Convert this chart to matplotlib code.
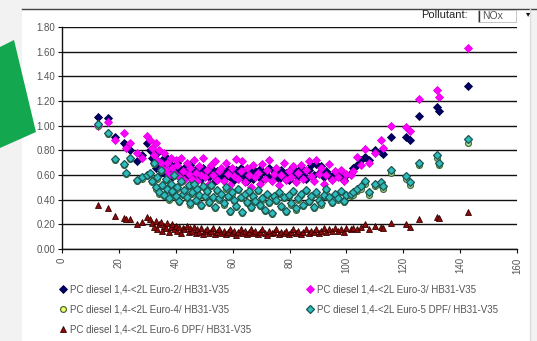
import matplotlib.pyplot as plt
from matplotlib.lines import Line2D
from matplotlib.patches import Polygon, Rectangle

plt.rcParams['font.family'] = ['Liberation Sans', 'DejaVu Sans']

# average speed of each traffic situation [km/h]
speed = [
    12.7, 16.0, 18.7, 21.9, 22.5, 24.0, 26.5, 28.0, 29.8,
    31.0, 31.5, 32.3, 33.0, 33.4, 34.1, 34.8, 35.2,
    35.9, 36.5, 37.0, 37.6, 38.2, 38.8, 39.5, 40.1,
    40.6, 41.3, 41.9, 42.4, 43.0, 43.8, 44.5, 45.0,
    45.7, 46.3, 47.0, 47.6, 48.3, 49.0, 49.6, 50.4,
    51.0, 51.7, 52.5, 53.2, 53.8, 54.6, 55.3, 56.0,
    56.8, 57.5, 58.2, 59.0, 59.8, 60.5, 61.3, 62.0,
    62.8, 63.4, 64.2, 65.0, 65.8, 66.5, 67.3, 68.0,
    68.8, 69.6, 70.5, 71.3, 72.0, 72.9, 73.7, 74.6,
    75.3, 76.2, 77.0, 78.0, 78.8, 79.7, 80.5, 81.4,
    82.3, 83.1, 84.0, 84.9, 85.8, 86.7, 87.6, 88.5,
    89.4, 90.3, 91.2, 92.1, 93.0, 94.0, 95.0, 96.0,
    97.0, 98.0, 99.0, 100.0,
    101.5, 102.5, 103.7, 105.0, 106.7, 107.8, 110.0, 112.2,
    113.0, 115.8, 121.0, 122.2, 125.7, 132.0, 132.7, 142.9,
]

# NOx emission factors [g/km]
nox_euro2 = [
    1.07, 1.06, 0.91, 0.86, 0.84, 0.80, 0.71, 0.76, 0.86,
    0.80, 0.74, 0.70, 0.66, 0.78, 0.69, 0.62, 0.72,
    0.66, 0.60, 0.74, 0.63, 0.68, 0.58, 0.65, 0.61,
    0.70, 0.60, 0.64, 0.57, 0.66, 0.62, 0.59, 0.68,
    0.61, 0.56, 0.65, 0.60, 0.63, 0.57, 0.66, 0.59,
    0.62, 0.58, 0.66, 0.60, 0.55, 0.63, 0.59, 0.64,
    0.57, 0.61, 0.65, 0.58, 0.62, 0.56, 0.64, 0.60,
    0.66, 0.58, 0.62, 0.55, 0.64, 0.60, 0.57, 0.63,
    0.59, 0.65, 0.56, 0.62, 0.60, 0.66, 0.58, 0.63,
    0.61, 0.57, 0.64, 0.59, 0.62, 0.56, 0.65, 0.60,
    0.63, 0.58, 0.66, 0.61, 0.57, 0.64, 0.68, 0.60,
    0.69, 0.62, 0.67, 0.58, 0.63, 0.60, 0.57, 0.62,
    0.59, 0.61, 0.56, 0.60,
    0.62, 0.66, 0.68, 0.72, 0.75, 0.72, 0.80, 0.79,
    0.77, 0.91, 0.91, 0.88, 1.08, 1.15, 1.12, 1.32,
]
nox_euro3 = [
    1.00, 1.03, 0.88, 0.94, 0.82, 0.86, 0.78, 0.74, 0.92,
    0.88, 0.82, 0.76, 0.86, 0.72, 0.80, 0.70, 0.66,
    0.78, 0.64, 0.70, 0.60, 0.74, 0.66, 0.62, 0.72,
    0.68, 0.58, 0.74, 0.63, 0.56, 0.70, 0.61, 0.66,
    0.57, 0.72, 0.62, 0.55, 0.67, 0.60, 0.74, 0.58,
    0.64, 0.53, 0.68, 0.60, 0.71, 0.56, 0.63, 0.66,
    0.55, 0.70, 0.61, 0.52, 0.66, 0.59, 0.73, 0.57,
    0.63, 0.71, 0.54, 0.66, 0.60, 0.50, 0.68, 0.58,
    0.62, 0.53, 0.69, 0.57, 0.64, 0.72, 0.55, 0.61,
    0.66, 0.52, 0.60, 0.70, 0.56, 0.63, 0.58, 0.67,
    0.54, 0.62, 0.68, 0.57, 0.64, 0.71, 0.59, 0.55,
    0.72, 0.61, 0.66, 0.53, 0.60, 0.69, 0.56, 0.63,
    0.58, 0.64, 0.55, 0.61,
    0.60, 0.63, 0.75, 0.68, 0.81, 0.70, 0.78, 0.88,
    0.82, 1.00, 0.99, 0.96, 1.22, 1.29, 1.23, 1.63,
]
nox_euro4 = [
    1.00, 0.93, 0.72, 0.68, 0.61, 0.73, 0.55, 0.57, 0.59,
    0.61, 0.54, 0.69, 0.49, 0.57, 0.45, 0.63, 0.51,
    0.43, 0.56, 0.48, 0.40, 0.52, 0.46, 0.59, 0.42,
    0.49, 0.38, 0.54, 0.44, 0.47, 0.41, 0.51, 0.36,
    0.45, 0.52, 0.39, 0.48, 0.43, 0.35, 0.50, 0.42,
    0.46, 0.37, 0.51, 0.41, 0.33, 0.47, 0.40, 0.44,
    0.36, 0.49, 0.42, 0.30, 0.45, 0.39, 0.34, 0.48,
    0.41, 0.29, 0.44, 0.37, 0.46, 0.33, 0.42, 0.38,
    0.47, 0.35, 0.40, 0.31, 0.44, 0.37, 0.28, 0.42,
    0.39, 0.45, 0.34, 0.41, 0.30, 0.43, 0.36, 0.46,
    0.32, 0.40, 0.44, 0.35, 0.47, 0.38, 0.42, 0.33,
    0.45, 0.39, 0.36, 0.43, 0.48, 0.41, 0.37, 0.44,
    0.40, 0.46, 0.38, 0.43,
    0.43, 0.44, 0.47, 0.49, 0.53, 0.44, 0.51, 0.52,
    0.49, 0.62, 0.57, 0.52, 0.68, 0.74, 0.68, 0.86,
]
nox_euro5 = [
    1.01, 0.94, 0.73, 0.69, 0.62, 0.74, 0.56, 0.58, 0.60,
    0.62, 0.55, 0.70, 0.50, 0.58, 0.46, 0.64, 0.52,
    0.44, 0.57, 0.49, 0.41, 0.53, 0.47, 0.60, 0.43,
    0.50, 0.39, 0.55, 0.45, 0.48, 0.42, 0.52, 0.37,
    0.46, 0.53, 0.40, 0.49, 0.44, 0.36, 0.51, 0.43,
    0.47, 0.38, 0.52, 0.42, 0.34, 0.48, 0.41, 0.45,
    0.37, 0.50, 0.43, 0.31, 0.46, 0.40, 0.35, 0.49,
    0.42, 0.30, 0.45, 0.38, 0.47, 0.34, 0.43, 0.39,
    0.48, 0.36, 0.41, 0.32, 0.45, 0.38, 0.29, 0.43,
    0.40, 0.46, 0.35, 0.42, 0.31, 0.44, 0.37, 0.47,
    0.33, 0.41, 0.45, 0.36, 0.48, 0.39, 0.43, 0.34,
    0.46, 0.40, 0.37, 0.44, 0.49, 0.42, 0.38, 0.45,
    0.41, 0.47, 0.39, 0.44,
    0.45, 0.46, 0.49, 0.51, 0.55, 0.46, 0.53, 0.54,
    0.51, 0.64, 0.59, 0.54, 0.70, 0.76, 0.70, 0.89,
]
nox_euro6 = [
    0.36, 0.33, 0.27, 0.25, 0.24, 0.24, 0.20, 0.22, 0.26,
    0.24, 0.21, 0.18, 0.23, 0.16, 0.20, 0.22, 0.15,
    0.19, 0.17, 0.21, 0.14, 0.18, 0.20, 0.16, 0.19,
    0.15, 0.18, 0.13, 0.17, 0.16, 0.19, 0.14, 0.17,
    0.15, 0.18, 0.13, 0.16, 0.14, 0.17, 0.12, 0.15,
    0.16, 0.13, 0.15, 0.17, 0.12, 0.14, 0.16, 0.13,
    0.15, 0.12, 0.14, 0.16, 0.13, 0.15, 0.11, 0.14,
    0.16, 0.13, 0.15, 0.12, 0.14, 0.16, 0.13, 0.15,
    0.12, 0.14, 0.16, 0.13, 0.11, 0.15, 0.13, 0.14,
    0.16, 0.12, 0.14, 0.13, 0.15, 0.12, 0.14, 0.16,
    0.13, 0.15, 0.12, 0.14, 0.16, 0.13, 0.15, 0.14,
    0.16, 0.13, 0.15, 0.17, 0.14, 0.16, 0.15, 0.17,
    0.15, 0.16, 0.14, 0.17,
    0.16, 0.17, 0.16, 0.18, 0.20, 0.16, 0.19, 0.18,
    0.17, 0.21, 0.20, 0.18, 0.24, 0.26, 0.25, 0.30,
]

labels = [
    "PC diesel 1,4-<2L Euro-2/ HB31-V35",
    "PC diesel 1,4-<2L Euro-3/ HB31-V35",
    "PC diesel 1,4-<2L Euro-4/ HB31-V35",
    "PC diesel 1,4-<2L Euro-5 DPF/ HB31-V35",
    "PC diesel 1,4-<2L Euro-6 DPF/ HB31-V35",
]
series = [nox_euro2, nox_euro3, nox_euro4, nox_euro5, nox_euro6]
styles = [
    dict(marker="D", ms=4.0, mfc="#000066", mec="#000044", mew=0.6),
    dict(marker="D", ms=4.0, mfc="#ff00ff", mec="#e000e0", mew=0.6),
    dict(marker="o", ms=4.2, mfc="#b8e0a0", mec="#3f6f3a", mew=0.9),
    dict(marker="D", ms=4.2, mfc="#2fbcbc", mec="#1b5552", mew=0.9),
    dict(marker="^", ms=5.0, mfc="#8b0a0a", mec="#3a0000", mew=0.6),
]
legend_faces = ["#000066", "#ff00ff", "#ffff66", "#2fbcbc", "#8b0a0a"]

W, H = 537, 341
fig = plt.figure(figsize=(W / 100, H / 100), dpi=100, facecolor="#f2f2f2")


def fx(px):
    return px / W


def fy(py):
    return 1 - py / H


# white chart area and its borders
fig.patches.append(Rectangle((fx(22), 0), fx(530) - fx(22), fy(9),
                             transform=fig.transFigure, fc="white",
                             ec="none", zorder=-5))
fig.add_artist(Line2D([fx(22), 1], [fy(9), fy(9)], color="#444444",
                      lw=1.0, transform=fig.transFigure, zorder=-4))
fig.add_artist(Line2D([fx(530), fx(530)], [0, fy(9)], color="#dddddd",
                      lw=1.0, transform=fig.transFigure, zorder=-4))
# green arrow tip on the left
fig.patches.append(Polygon([(fx(0), fy(47)), (fx(14), fy(40)),
                            (fx(36), fy(132)), (fx(0), fy(148))],
                           closed=True, transform=fig.transFigure,
                           fc="#13a84f", ec="none", zorder=-3))

ax = fig.add_axes([fx(62), fy(249), fx(517) - fx(62), fy(27) - fy(249)])
ax.set_facecolor("none")
for y, st in zip(series, styles):
    ax.plot(speed, y, ls="none", zorder=3, **st)

ax.set_xlim(0, 160)
ax.set_ylim(0, 1.8)
ax.set_xticks(range(0, 161, 20))
ax.set_yticks([i * 0.2 for i in range(10)])
ax.set_yticklabels(["%.2f" % (i * 0.2) for i in range(10)])
ax.grid(axis="y", color="#111111", lw=1.0)
ax.set_axisbelow(True)
for side in ("top", "right"):
    ax.spines[side].set_visible(False)
for side in ("left", "bottom"):
    ax.spines[side].set_color("#111111")
    ax.spines[side].set_linewidth(1.0)
ax.tick_params(axis="both", direction="out", length=3, width=0.8,
               color="#111111", labelsize=7, labelcolor="#555555", pad=2)
ax.tick_params(axis="x", labelrotation=90, pad=3)

# legend, two columns under the plot
order = [0, 2, 4, 1, 3]
for k, i in enumerate(order):
    col, row = divmod(k, 3)
    mx = [63, 310][col]
    my = 289 + 20 * row
    st = dict(styles[i], mfc=legend_faces[i])
    fig.add_artist(Line2D([fx(mx)], [fy(my)], ls="none",
                          transform=fig.transFigure, **st))
    fig.text(fx(mx + 7), fy(my), labels[i], fontsize=7, color="#555555",
             va="center", ha="left")

# pollutant selector
fig.text(fx(421), fy(15), "Pollutant:", fontsize=8, color="#222222",
         va="center", ha="left")
fig.patches.append(Rectangle((fx(478), fy(22)), fx(516) - fx(478),
                             fy(10) - fy(22), transform=fig.transFigure,
                             fc="white", ec="#bbbbbb", lw=0.6, zorder=2))
fig.add_artist(Line2D([fx(479), fx(479)], [fy(11), fy(21)], color="#333333",
                      lw=1.0, transform=fig.transFigure, zorder=3))
fig.text(fx(482), fy(16), "NOx", fontsize=7.5, color="#555555",
         va="center", ha="left")
fig.text(fx(528), fy(15), "\u25be", fontsize=6, color="#111111",
         va="center", ha="center")

fig.savefig("out.png", dpi=100, facecolor=fig.get_facecolor())
